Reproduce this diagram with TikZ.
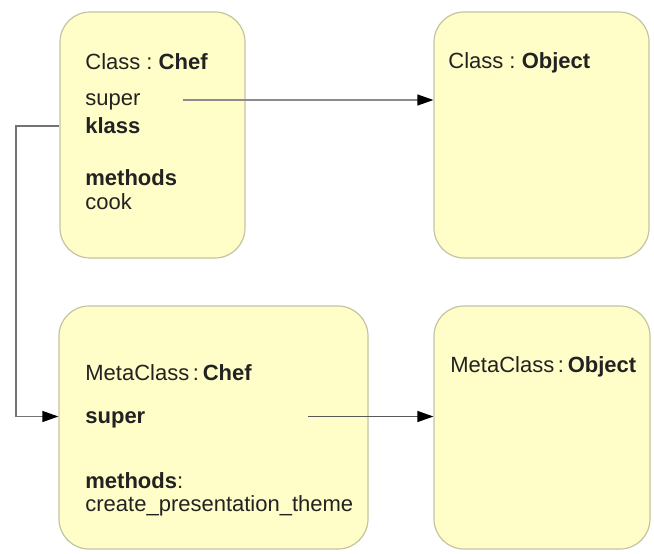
\documentclass[tikz,border=0pt]{standalone}
\usepackage{fontspec}
\setmainfont{Liberation Sans}
\usetikzlibrary{arrows.meta,positioning,calc}
\definecolor{boxfill}{RGB}{255,253,200}
\definecolor{boxline}{RGB}{196,196,160}
\definecolor{txt}{RGB}{34,34,34}
\frenchspacing
\begin{document}
\begin{tikzpicture}[x=0.5pt, y=-0.5pt,
			every node/.style={font=\fontsize{11}{13.2}\selectfont, text=txt},
			b/.style={draw=boxline, line width=0.6pt, fill=boxfill, rounded corners=15pt, inner sep=0pt},
			t/.style={anchor=base west, inner sep=0pt},
			arr/.style={-{Triangle[length=8pt, width=5.5pt, color=black]}, line width=0.6pt}]
			\useasboundingbox (0,0) rectangle (654,553);
			\node[b, minimum width=92.5pt, minimum height=123pt] (cc) at (152.5,135) {};
			\node[b, minimum width=107.5pt, minimum height=123pt] (co) at (541.5,135) {};
			\node[b, minimum width=154.5pt, minimum height=121.5pt] (mc) at (213.5,427.5) {};
			\node[b, minimum width=108pt, minimum height=121.5pt] (mo) at (542,427.5) {};
			\node[t] (cct) at (85,69) {Class : \textbf{Chef}};
			\node[t] (ccs) at (85,105) {super};
			\node[t] (cck) at (85,133) {\textbf{klass}};
			\node[t] (ccm) at (85,185) {\textbf{methods}};
			\node[t] (ccc) at (85,209) {cook};
			\node[t] (cot) at (448,68) {Class : \textbf{Object}};
			\node[t] (mct) at (85,380) {MetaClass\,:\,\textbf{Chef}};
			\node[t] (mcs) at (85,423) {\textbf{super}};
			\node[t] (mcm) at (85,488) {\textbf{methods}:};
			\node[t] (mcc) at (85,511) {create\_presentation\_theme};
			\node[t] (mot) at (450,372) {MetaClass\,:\,\textbf{Object}};
			\coordinate (s1) at (183,100);
			\coordinate (s2) at (308,416.5);
			\coordinate (k1) at (cc.west |- 0,126);
			\coordinate (k2) at (16,126);
			\draw[arr, draw=black!45] (s1) -- (s1 -| co.west);
			\draw[arr, draw=black!65] (s2) -- (s2 -| mo.west);
			\draw[arr, draw=black!55] (k1) -- (k2) |- (s2 -| mc.west);
		\end{tikzpicture}
\end{document}
